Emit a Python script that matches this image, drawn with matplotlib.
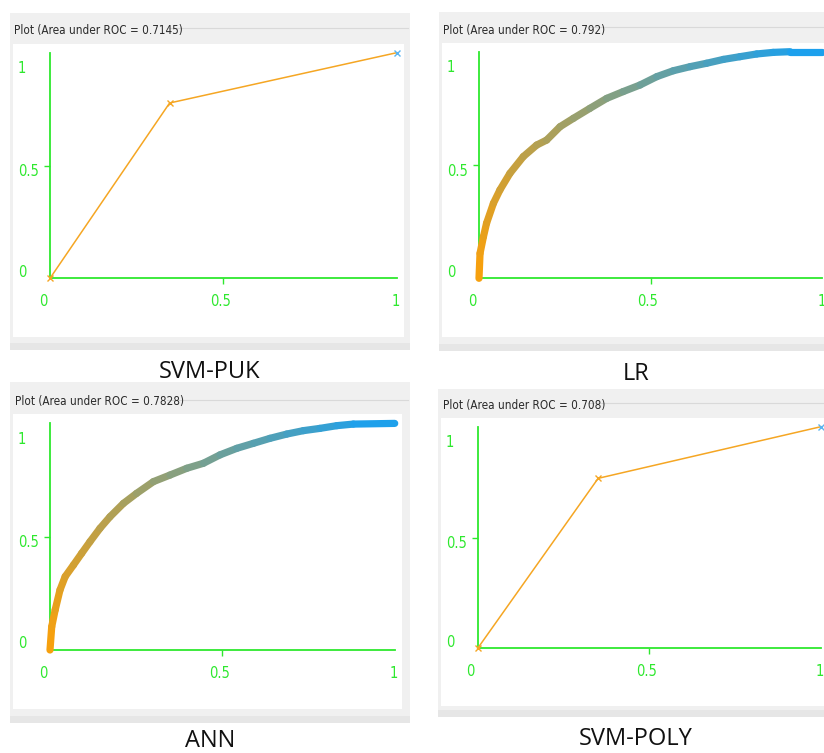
import matplotlib
matplotlib.use('Agg')
import matplotlib.pyplot as plt
from matplotlib.patches import Rectangle
from matplotlib.collections import LineCollection
import numpy as np

# ---------------- data ----------------
model_names = ['SVM-PUK', 'LR', 'ANN', 'SVM-POLY']
auc_values = ['0.7145', '0.792', '0.7828', '0.708']

svm_puk_fpr = [0.0, 0.345, 1.0]
svm_puk_tpr = [0.0, 0.777, 1.0]

svm_poly_fpr = [0.0, 0.351, 1.0]
svm_poly_tpr = [0.0, 0.767, 1.0]

lr_fpr = [0.0, 0.003, 0.013, 0.022, 0.042, 0.061, 0.090, 0.129, 0.168, 0.197,
          0.236, 0.275, 0.323, 0.372, 0.420, 0.469, 0.518, 0.566, 0.615, 0.663,
          0.712, 0.760, 0.809, 0.857, 0.906, 1.0]
lr_tpr = [0.0, 0.110, 0.184, 0.243, 0.331, 0.390, 0.463, 0.537, 0.588, 0.610,
          0.669, 0.706, 0.750, 0.794, 0.824, 0.853, 0.890, 0.916, 0.934, 0.949,
          0.966, 0.978, 0.990, 0.997, 1.0, 1.0]

ann_fpr = [0.0, 0.005, 0.015, 0.029, 0.044, 0.068, 0.092, 0.116, 0.145, 0.174,
           0.213, 0.251, 0.300, 0.348, 0.397, 0.445, 0.493, 0.542, 0.590, 0.638,
           0.687, 0.735, 0.783, 0.832, 0.880, 1.0]
ann_tpr = [0.0, 0.103, 0.177, 0.265, 0.324, 0.375, 0.427, 0.478, 0.537, 0.588,
           0.647, 0.691, 0.743, 0.772, 0.802, 0.824, 0.861, 0.890, 0.912, 0.934,
           0.953, 0.968, 0.978, 0.990, 0.997, 1.0]

tick_values = [0, 0.5, 1]
tick_labels = ['0', '0.5', '1']

# ---------------- figure ----------------
W, H = 824, 753
fig = plt.figure(figsize=(W / 100, H / 100), dpi=100)
bg = fig.add_axes([0, 0, 1, 1])
bg.set_xlim(0, W)
bg.set_ylim(H, 0)
bg.axis('off')

GREEN = '#2ee82e'
GRAY = '#f0f0f0'
NARROW = dict(family='DejaVu Sans', stretch='condensed')

# layout in pixels
panels = [
    dict(gray=(10, 13, 410, 350), white=(13, 44, 404, 337), title=(14, 30.5),
         tline=(167, 408, 27.7), label=(210, 372), ax=(50, 396.7, 278.3, 52.7)),
    dict(gray=(439, 12, 824, 351), white=(442, 43, 824, 337), title=(443, 30),
         tline=(590, 824, 26.7), label=(636, 374), ax=(479, 822.3, 278.3, 51.7)),
    dict(gray=(10, 382, 410, 723), white=(13, 414, 402, 709), title=(15, 401.7),
         tline=(167, 408, 399.5), label=(210, 741), ax=(50, 394.7, 650, 423.4)),
    dict(gray=(438, 389, 824, 717), white=(441, 418, 824, 706), title=(443, 405),
         tline=(588, 824, 402.7), label=(636, 739), ax=(477.7, 820.9, 648.3, 426.7)),
]

c_start = np.array([250, 160, 10]) / 255.0
c_end = np.array([20, 160, 245]) / 255.0


def grad_curve(ax, fpr, tpr):
    x = np.asarray(fpr)
    y = np.asarray(tpr)
    pts = np.column_stack([x, y])
    segs = np.stack([pts[:-1], pts[1:]], axis=1)
    t = 0.7 * (x[:-1] + x[1:]) / 2 + 0.3 * (y[:-1] + y[1:]) / 2
    cols = [tuple(c_start * (1 - ti) + c_end * ti) for ti in t]
    lc = LineCollection(segs, colors=cols, linewidths=5.2, capstyle='round',
                        joinstyle='round', clip_on=False, zorder=3)
    ax.add_collection(lc)


def step_curve(ax, fpr, tpr):
    ax.plot(fpr, tpr, color='#f5a623', lw=1.1, clip_on=False, zorder=3)
    ax.plot(fpr[:-1], tpr[:-1], ls='none', marker='x', ms=5, mew=1,
            color='#f5a623', clip_on=False, zorder=4)
    ax.plot(fpr[-1:], tpr[-1:], ls='none', marker='x', ms=5, mew=1,
            color='#5ab4f0', clip_on=False, zorder=4)


curves = [(svm_puk_fpr, svm_puk_tpr, 'step'), (lr_fpr, lr_tpr, 'grad'),
          (ann_fpr, ann_tpr, 'grad'), (svm_poly_fpr, svm_poly_tpr, 'step')]

for p, name, auc, (fx, fy, kind) in zip(panels, model_names, auc_values, curves):
    gx0, gy0, gx1, gy1 = p['gray']
    bg.add_patch(Rectangle((gx0, gy0), gx1 - gx0, gy1 - gy0, color=GRAY, lw=0))
    bg.add_patch(Rectangle((gx0, gy1 - 7), gx1 - gx0, 7, color='#e6e6e6', lw=0))
    wx0, wy0, wx1, wy1 = p['white']
    bg.add_patch(Rectangle((wx0, wy0), wx1 - wx0, wy1 - wy0, color='white', lw=0))
    lx0, lx1, ly = p['tline']
    bg.plot([lx0, lx1], [ly, ly], color='#d9d9d9', lw=0.8)
    bg.text(p['title'][0], p['title'][1], f'Plot (Area under ROC = {auc})',
            ha='left', va='center', fontsize=8.4, color='#2a2a2a', **NARROW)
    bg.text(p['label'][0], p['label'][1], name, ha='center', va='center',
            fontsize=17, color='#111111', family=['Open Sans', 'DejaVu Sans'])

    ax0, ax1, ay0, ay1 = p['ax']
    ax = fig.add_axes([ax0 / W, 1 - ay0 / H, (ax1 - ax0) / W, (ay0 - ay1) / H])
    ax.set_facecolor('none')
    ax.set_xlim(0, 1)
    ax.set_ylim(0, 1)
    for s in ['top', 'right']:
        ax.spines[s].set_visible(False)
    for s in ['left', 'bottom']:
        ax.spines[s].set_color(GREEN)
        ax.spines[s].set_linewidth(1.3)
    ax.set_xticks([0.5])
    ax.set_yticks([0.5])
    ax.tick_params(length=4.2, width=1, color=GREEN, labelbottom=False,
                   labelleft=False)

    # x tick labels
    for v, lab, dx in zip(tick_values, tick_labels, [-7, -3, -1]):
        ax.annotate(lab, xy=(v, 0), xycoords='data', xytext=(dx, -23),
                    textcoords='offset pixels', ha='center', va='center',
                    fontsize=10.5, color=GREEN, annotation_clip=False, **NARROW)
    # y tick labels
    for v, lab, dy in zip(tick_values, tick_labels, [6, -6, -16]):
        ax.annotate(lab, xy=(0, v), xycoords='data', xytext=(-32, dy),
                    textcoords='offset pixels', ha='left', va='center',
                    fontsize=10.5, color=GREEN, annotation_clip=False, **NARROW)

    if kind == 'grad':
        grad_curve(ax, fx, fy)
    else:
        step_curve(ax, fx, fy)

fig.savefig('out.png', dpi=100)
